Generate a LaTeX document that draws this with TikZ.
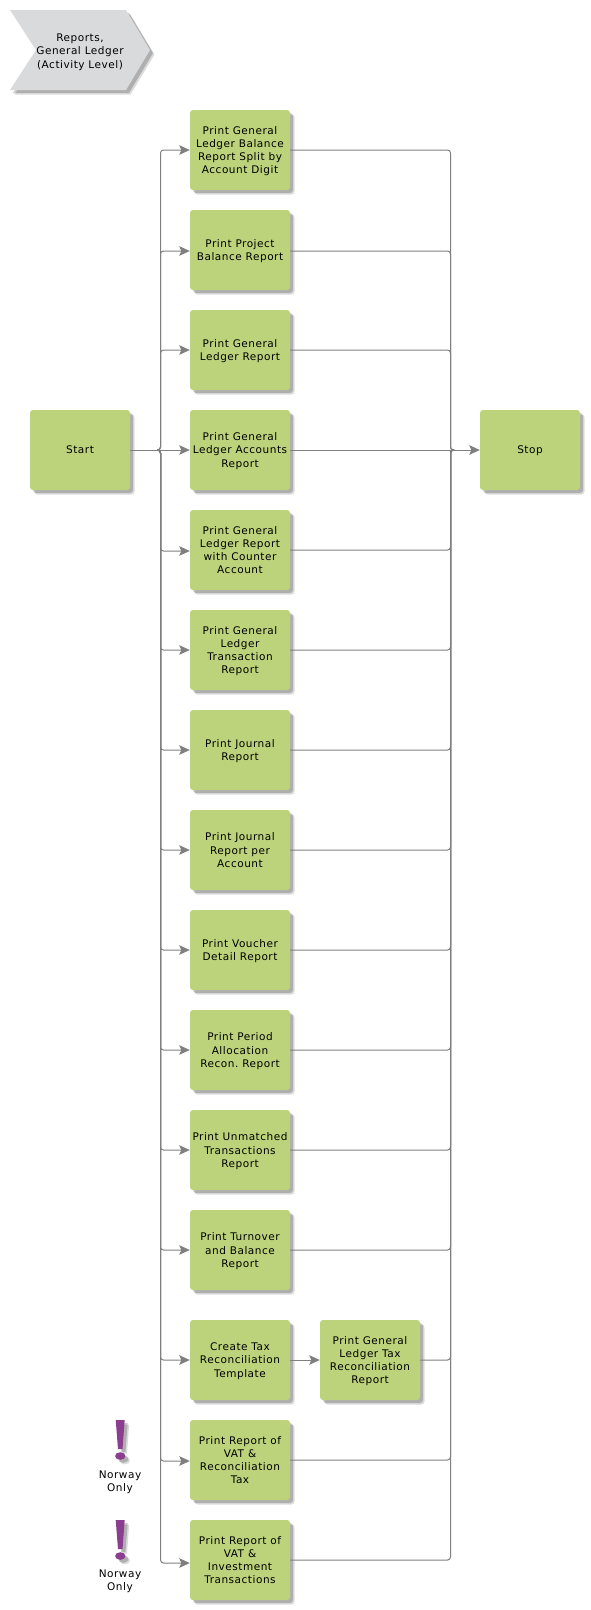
\documentclass[tikz,border=0pt]{standalone}
\usepackage{fontspec}
\setmainfont{DejaVu Sans}
\newfontfamily\labelfont[LetterSpace=5]{DejaVu Sans}
\usetikzlibrary{arrows.meta, shadows}

\definecolor{boxgreen}{HTML}{BCD37B}
\definecolor{taggray}{HTML}{D9DADC}
\definecolor{warnpurple}{HTML}{8B3D8F}
\definecolor{linkgray}{HTML}{7F7F80}

\tikzset{
  softshadow/.style={
    drop shadow={shadow xshift=4.5pt, shadow yshift=-4.5pt, fill=black, opacity=.14},
    drop shadow={shadow xshift=3pt, shadow yshift=-3pt, fill=black, opacity=.2}},
  activity/.style={fill=boxgreen, rounded corners=3pt, minimum width=100pt, minimum height=80pt,
    inner sep=0pt, align=center, font=\labelfont\fontsize{10.5}{13.3}\selectfont, softshadow,
    text depth=-2.5pt},
  caption/.style={inner sep=0pt, align=center, font=\labelfont\fontsize{10.5}{13.3}\selectfont},
  flow/.style={draw=linkgray, line width=1pt, rounded corners=3pt},
  link/.style={flow, -{Stealth[length=10.5pt, width=9.5pt, inset=2pt]}},
}

\begin{document}
\begin{tikzpicture}[x=1pt, y=-1pt]
  \useasboundingbox (0,0) rectangle (590,1610);

  % heading tag
  \fill[taggray, softshadow] (10,10) -- (126,10) -- (150,50) -- (126,90) -- (10,90) -- (36,50) -- cycle;
  \node[caption] (heading) at (80,52) {Reports,\\General Ledger\\(Activity Level)};

  \node[activity] (start) at (80,450) {Start};
  \node[activity] (stop) at (530,450) {Stop};

  \node[activity] (balance) at (240,150) {Print General\\Ledger Balance\\Report Split by\\Account Digit};
  \node[activity] (project) at (240,250) {Print Project\\Balance Report};
  \node[activity] (ledger) at (240,350) {Print General\\Ledger Report};
  \node[activity] (accounts) at (240,450) {Print General\\Ledger Accounts\\Report};
  \node[activity] (counter) at (240,550) {Print General\\Ledger Report\\with Counter\\Account};
  \node[activity] (transaction) at (240,650) {Print General\\Ledger\\Transaction\\Report};
  \node[activity] (journal) at (240,750) {Print Journal\\Report};
  \node[activity] (peraccount) at (240,850) {Print Journal\\Report per\\Account};
  \node[activity] (voucher) at (240,950) {Print Voucher\\Detail Report};
  \node[activity] (allocation) at (240,1050) {Print Period\\Allocation\\Recon.\ Report};
  \node[activity] (unmatched) at (240,1150) {Print Unmatched\\Transactions\\Report};
  \node[activity] (turnover) at (240,1250) {Print Turnover\\and Balance\\Report};
  \node[activity] (template) at (240,1360) {Create Tax\\Reconciliation\\Template};
  \node[activity] (taxrecon) at (370,1360) {Print General\\Ledger Tax\\Reconciliation\\Report};
  \node[activity] (vatrecon) at (240,1460) {Print Report of\\VAT \&\\Reconciliation\\Tax};
  \node[activity] (vatinvest) at (240,1560) {Print Report of\\VAT \&\\Investment\\Transactions};

  % the two collecting lines, with a short stub where they meet the middle row
  \coordinate (busin) at (160.5,450);
  \coordinate (stubin) at (157,450);
  \coordinate (busout) at (450.5,450);
  \coordinate (stubout) at (454,450);

  \draw[flow] (start) -- (stubin);
  \draw[link] (stubin) -- (busin) |- (balance);
  \draw[link] (stubin) -- (busin) |- ([yshift=-1pt]project.west);
  \draw[link] (stubin) -- (busin) |- (ledger);
  \draw[link] (stubin) -- (accounts);
  \draw[link] (stubin) -- (busin) |- ([yshift=-1pt]counter.west);
  \draw[link] (stubin) -- (busin) |- (transaction);
  \draw[link] (stubin) -- (busin) |- (journal);
  \draw[link] (stubin) -- (busin) |- (peraccount);
  \draw[link] (stubin) -- (busin) |- (voucher);
  \draw[link] (stubin) -- (busin) |- (allocation);
  \draw[link] (stubin) -- (busin) |- (unmatched);
  \draw[link] (stubin) -- (busin) |- (turnover);
  \draw[link] (stubin) -- (busin) |- (template);
  \draw[link] (stubin) -- (busin) |- ([yshift=-1pt]vatrecon.west);
  \draw[link] (stubin) -- (busin) |- ([yshift=-3pt]vatinvest.west);

  \draw[link] (template) -- (taxrecon);

  \draw[link] (accounts) -- (stop);
  \draw[flow] (balance) -| (busout) -- (stubout);
  \draw[flow] ([yshift=-1pt]project.east) -| (busout) -- (stubout);
  \draw[flow] (ledger) -| (busout) -- (stubout);
  \draw[flow] (counter) -| (busout) -- (stubout);
  \draw[flow] (transaction) -| (busout) -- (stubout);
  \draw[flow] (journal) -| (busout) -- (stubout);
  \draw[flow] (peraccount) -| (busout) -- (stubout);
  \draw[flow] (voucher) -| (busout) -- (stubout);
  \draw[flow] (allocation) -| (busout) -- (stubout);
  \draw[flow] (unmatched) -| (busout) -- (stubout);
  \draw[flow] (turnover) -| (busout) -- (stubout);
  \draw[flow] (taxrecon) -| (busout) -- (stubout);
  \draw[flow] (vatrecon) -| (busout) -- (stubout);
  \draw[flow] (vatinvest) -| (busout) -- (stubout);

  % exclamation marks
  \fill[warnpurple, softshadow] (115.7,1420) -- (124.7,1420) -- (122.5,1449) -- (118,1449) -- cycle;
  \fill[warnpurple, softshadow] (120.3,1456) ellipse (5.2 and 3.8);
  \node[caption] (norwayone) at (120,1482.5) {Norway\\Only};

  \fill[warnpurple, softshadow] (115.7,1520) -- (124.7,1520) -- (122.5,1549) -- (118,1549) -- cycle;
  \fill[warnpurple, softshadow] (120.3,1556) ellipse (5.2 and 3.8);
  \node[caption] (norwaytwo) at (120,1581) {Norway\\Only};
\end{tikzpicture}
\end{document}
